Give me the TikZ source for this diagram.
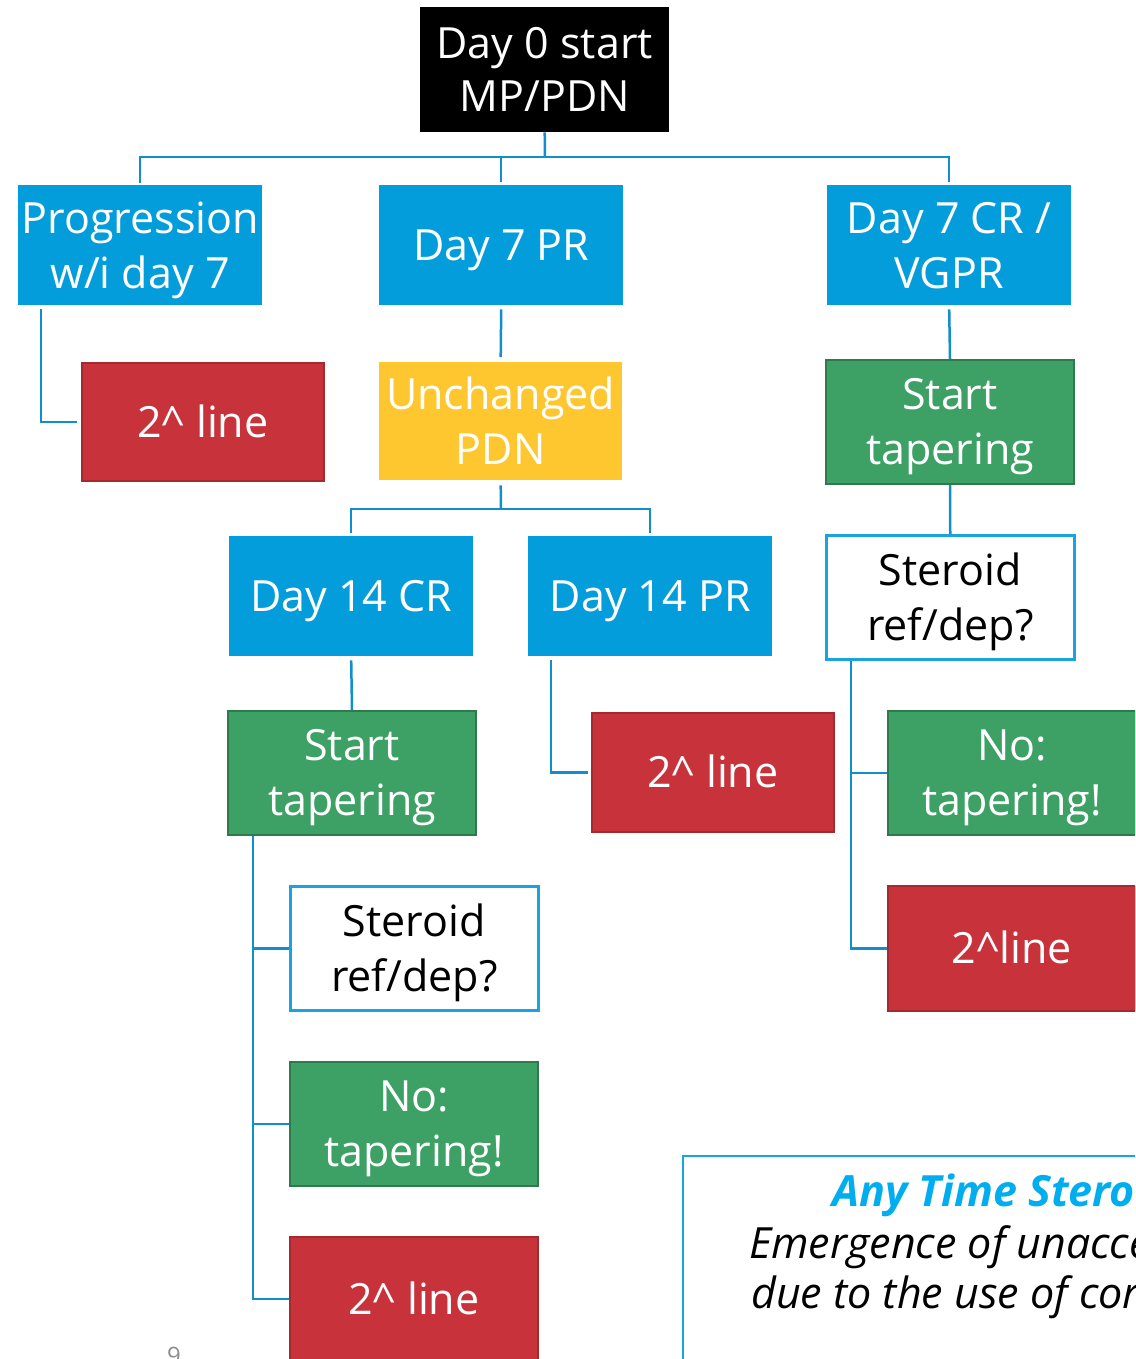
\documentclass[tikz,border=0pt]{standalone}
\usepackage{fontspec}
\setmainfont{Open Sans}
\definecolor{boxblue}{RGB}{3,157,220}
\definecolor{linkblue}{RGB}{17,143,203}
\definecolor{wborder}{RGB}{26,163,224}
\definecolor{boxred}{RGB}{200,51,59}
\definecolor{redborder}{RGB}{165,42,48}
\definecolor{boxgreen}{RGB}{61,160,100}
\definecolor{greenborder}{RGB}{46,122,76}
\definecolor{boxyellow}{RGB}{255,199,47}
\definecolor{notetitle}{RGB}{0,173,239}
\definecolor{pagegray}{RGB}{140,140,140}
\begin{document}
\begin{tikzpicture}[x=1pt,y=-1pt,
  base/.style={rectangle, inner sep=0pt, align=center, anchor=north west,
    text=white, font=\fontsize{43}{55}\selectfont, text height=30.7pt, text depth=0pt},
  twolines/.style={text height=85.7pt, text depth=0pt},
  bluebox/.style={base, fill=boxblue},
  blackbox/.style={base, fill=black},
  yellowbox/.style={base, fill=boxyellow},
  redbox/.style={base, fill=boxred, draw=redborder, line width=1.5pt},
  greenbox/.style={base, fill=boxgreen, draw=greenborder, line width=2pt},
  whitebox/.style={base, fill=white, draw=wborder, line width=2.5pt, text=black},
  link/.style={draw=linkblue, line width=2.5pt},
  notetext/.style={anchor=base west, inner sep=0pt, font=\fontsize{43}{52}\selectfont\itshape}
]
\useasboundingbox (0,0) rectangle (1135,1359);
\clip (0,0) rectangle (1135,1359);

% boxes
\node[blackbox, font=\fontsize{43}{53}\selectfont, text height=83.7pt, minimum width=249pt, minimum height=125pt] (d0) at (420,7) {Day 0 start\\MP/PDN};
\node[bluebox, twolines, minimum width=244pt, minimum height=120pt] (prog) at (18,185) {Progression\\w/i day 7};
\node[bluebox, minimum width=244pt, minimum height=120pt] (d7pr) at (379,185) {Day 7 PR};
\node[bluebox, twolines, minimum width=244pt, minimum height=120pt] (d7cr) at (827,185) {Day 7 CR /\\VGPR};
\node[redbox, minimum width=242pt, minimum height=118pt] (redA) at (81,362) {2\^{} line};
\node[yellowbox, twolines, minimum width=243pt, minimum height=118pt] (unch) at (379,362) {Unchanged\\PDN};
\node[greenbox, twolines, minimum width=248pt, minimum height=124pt] (taperR) at (825,359) {Start\\tapering};
\node[whitebox, twolines, minimum width=248pt, minimum height=124pt] (sterR) at (825,534) {Steroid\\ref/dep?};
\node[bluebox, minimum width=244pt, minimum height=120pt] (d14cr) at (229,536) {Day 14 CR};
\node[bluebox, minimum width=244pt, minimum height=120pt] (d14pr) at (528,536) {Day 14 PR};
\node[greenbox, twolines, minimum width=248pt, minimum height=124pt] (taperL) at (227,710) {Start\\tapering};
\node[redbox, minimum width=242pt, minimum height=119pt] (redB) at (591,712) {2\^{} line};
\node[greenbox, twolines, minimum width=248pt, minimum height=124pt] (noR) at (887,710) {No:\\tapering!};
\node[redbox, minimum width=248pt, minimum height=125pt] (redD) at (887,885) {2\^{}line};
\node[whitebox, twolines, minimum width=248pt, minimum height=124pt] (sterL) at (289,885) {Steroid\\ref/dep?};
\node[greenbox, twolines, minimum width=248pt, minimum height=124pt] (noL) at (289,1061) {No:\\tapering!};
\node[redbox, minimum width=248pt, minimum height=124pt] (redC) at (289,1236) {2\^{} line};

% note box
\node[draw=wborder, line width=2pt, fill=white, anchor=north west, minimum width=560pt, minimum height=260pt, inner sep=0pt] (note) at (682,1155) {};
\node[anchor=base west, inner sep=0pt, text=notetitle, font=\fontsize{43}{52}\selectfont\bfseries\itshape] (nt1) at (832,1206) {Any Time Stero};
\node[notetext] (nt2) at (749,1258) {Emergence of unacce};
\node[notetext] (nt3) at (751,1308) {due to the use of cor};

% page number
\node[anchor=base west, inner sep=0pt, text=pagegray, font=\fontsize{24}{28}\selectfont] (pg) at (167,1364) {9};

% connectors
\coordinate (hub1) at (545,157);
\draw[link] (d0.south) -- (hub1);
\draw[link] (hub1) -| ([yshift=2pt]prog.north);
\draw[link] (hub1) -| ([yshift=3pt]d7pr.north);
\draw[link] (hub1) -| ([yshift=3pt]d7cr.north);
\draw[link] ([xshift=23pt,yshift=-4pt]prog.south west) |- ([xshift=-4pt]redA.west);
\draw[link] ([yshift=-4pt]d7pr.south) -- ([yshift=5pt]unch.north);
\draw[link] ([yshift=-4pt]d7cr.south) -- (taperR.north);
\coordinate (hub2) at (501,509);
\draw[link] ([yshift=-5pt]unch.south) -- (hub2);
\draw[link] (hub2) -| ([yshift=3pt]d14cr.north);
\draw[link] (hub2) -| ([yshift=3pt]d14pr.north);
\draw[link] ([yshift=-4pt]d14cr.south) -- (taperL.north);
\draw[link] ([xshift=23pt,yshift=-4pt]d14pr.south west) |- ([xshift=-3pt]redB.west);
\draw[link] (taperR.south) -- (sterR.north);
\draw[link] ([xshift=26pt]sterR.south west) |- (noR.west);
\draw[link] ([xshift=26pt]sterR.south west) |- (redD.west);
\draw[link] ([xshift=26pt]taperL.south west) |- (sterL.west);
\draw[link] ([xshift=26pt]taperL.south west) |- (noL.west);
\draw[link] ([xshift=26pt]taperL.south west) |- (redC.west);
\end{tikzpicture}
\end{document}
